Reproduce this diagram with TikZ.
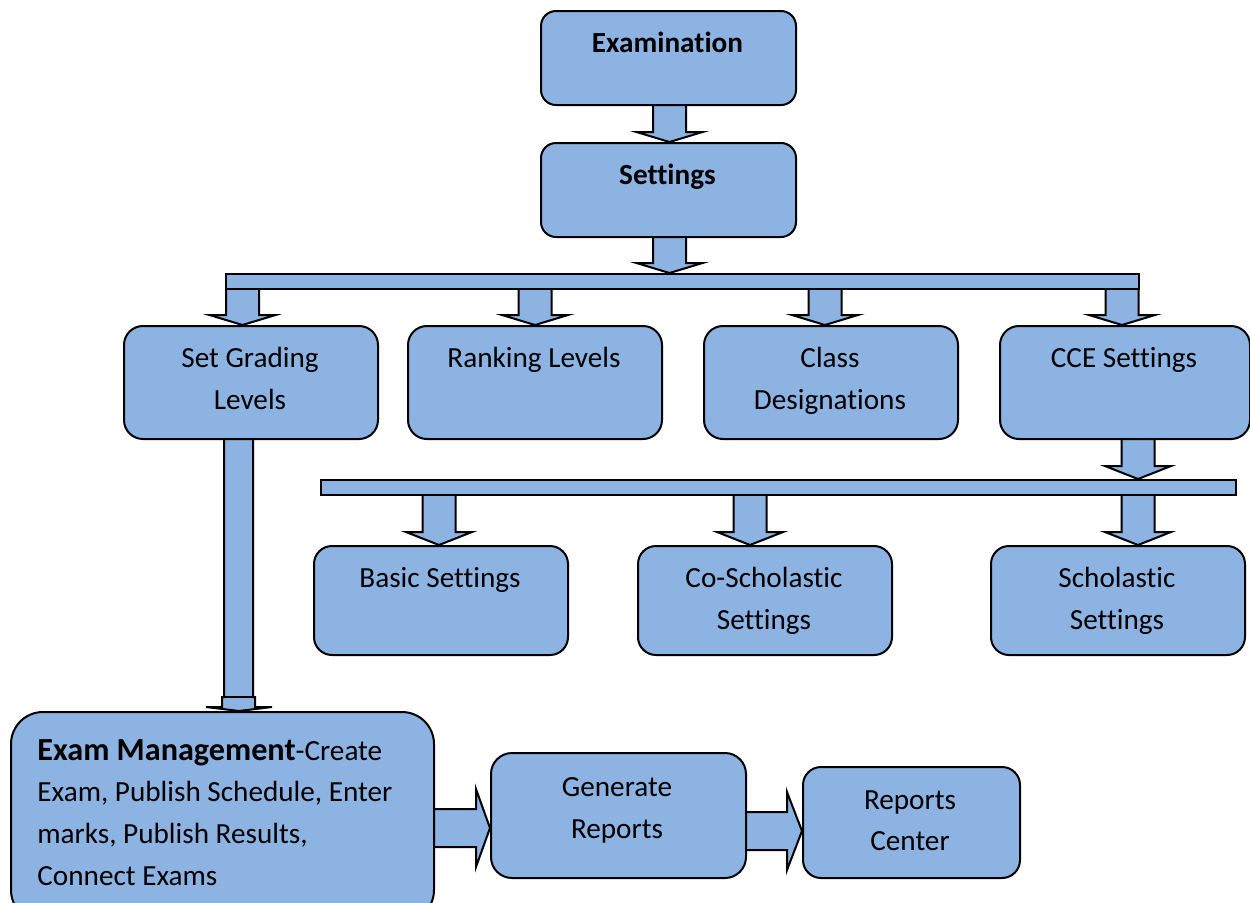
\documentclass[tikz,border=0pt]{standalone}
\usepackage{fontspec}
\setmainfont{Carlito}[Ligatures=CommonOff]
\definecolor{boxblue}{RGB}{141,179,226}
\newcommand{\blkdown}[4]{%
  \fill[boxblue] (#1-16.5,#2) -- (#1-16.5,#3) -- (#1-33,#3) -- (#1,#4) -- (#1+33,#3) -- (#1+16.5,#3) -- (#1+16.5,#2) -- cycle;
  \draw[blkline] (#1-16.5,#2) -- (#1-16.5,#3) -- (#1-33,#3) -- (#1,#4) -- (#1+33,#3) -- (#1+16.5,#3) -- (#1+16.5,#2);}
\newcommand{\blkright}[4]{%
  \fill[boxblue] (#2,#1-19) -- (#3,#1-19) -- (#3,#1-39) -- (#4,#1) -- (#3,#1+39) -- (#3,#1+19) -- (#2,#1+19) -- cycle;
  \draw[blkline] (#2,#1-19) -- (#3,#1-19) -- (#3,#1-39) -- (#4,#1) -- (#3,#1+39) -- (#3,#1+19) -- (#2,#1+19);}
\begin{document}
\begin{tikzpicture}[x=0.5pt,y=-0.5pt,
  box/.style={draw=black, fill=boxblue, line width=1pt, inner sep=0pt, anchor=north west},
  bar/.style={draw=black, fill=boxblue, line width=1pt},
  blkline/.style={draw=black, line width=1pt, line join=miter},
  txt/.style={font=\fontsize{14.6}{21}\selectfont, align=center, anchor=base, inner sep=0pt}]
\useasboundingbox (0,0) rectangle (1250,902);
% block arrows (drawn first)
\blkdown{669.5}{104}{132}{142}
\blkdown{669.5}{236}{263}{273}
\blkdown{242.5}{288}{315}{325}
\blkdown{535}{288}{315}{325}
\blkdown{825}{288}{315}{325}
\blkdown{1122}{288}{315}{325}
\blkdown{1138}{438}{466}{479}
\blkdown{439}{494}{532}{545}
\blkdown{750}{494}{532}{545}
\blkdown{1138}{494}{532}{545}
\fill[boxblue] (224,438) -- (224,697) -- (222,697) -- (222,707) -- (206,707) -- (239,711) -- (272,707) -- (255,707) -- (255,697) -- (253,697) -- (253,438) -- cycle;
\draw[blkline] (224,438) -- (224,697) -- (222,697) -- (222,707) -- (206,707) -- (239,711) -- (272,707) -- (255,707) -- (255,697) -- (253,697) -- (253,438);
\draw[blkline] (222,697) -- (255,697);
\blkright{828}{433}{476}{490}
\blkright{831}{745}{787}{802}
% bars
\node[bar, minimum width=456.5pt, minimum height=7.5pt, inner sep=0pt, anchor=north west] (bar1) at (225,273) {};
\node[bar, minimum width=457.5pt, minimum height=7.5pt, inner sep=0pt, anchor=north west] (bar2) at (320,479) {};
% boxes
\node[box, rounded corners=7.5pt, minimum width=127.5pt, minimum height=47pt] (exam) at (540,10) {};
\node[box, rounded corners=7.5pt, minimum width=127.5pt, minimum height=47pt] (settings) at (540,142) {};
\node[box, rounded corners=9.5pt, minimum width=127pt, minimum height=56.5pt] (grading) at (123,325) {};
\node[box, rounded corners=9.5pt, minimum width=127pt, minimum height=56.5pt] (ranking) at (407,325) {};
\node[box, rounded corners=9.5pt, minimum width=127pt, minimum height=56.5pt] (classd) at (703,325) {};
\node[box, rounded corners=9.5pt, minimum width=125pt, minimum height=56.5pt] (cce) at (999,325) {};
\node[box, rounded corners=9pt, minimum width=127pt, minimum height=54.5pt] (basic) at (313,545) {};
\node[box, rounded corners=9pt, minimum width=127pt, minimum height=54.5pt] (cosch) at (637,545) {};
\node[box, rounded corners=9pt, minimum width=127pt, minimum height=54.5pt] (sch) at (990,545) {};
\node[box, rounded corners=16pt, minimum width=211.5pt, minimum height=105pt] (mgmt) at (10,711) {};
\node[box, rounded corners=10.5pt, minimum width=127.5pt, minimum height=62.5pt] (gen) at (490,752) {};
\node[box, rounded corners=9pt, minimum width=108.5pt, minimum height=55.5pt] (rc) at (802,766) {};
% texts (base anchor = baseline of last line)
\node[txt, font=\fontsize{14.6}{21}\selectfont\bfseries] (t-exam) at (667.5,52) {Examination};
\node[txt, font=\fontsize{14.6}{21}\selectfont\bfseries] (t-settings) at (667.5,184) {Settings};
\node[txt] (t-grading) at (250,409) {Set Grading\\Levels};
\node[txt] (t-ranking) at (534,367) {Ranking Levels};
\node[txt] (t-classd) at (830,409) {Class\\Designations};
\node[txt] (t-cce) at (1124,367) {CCE Settings};
\node[txt] (t-basic) at (440,587) {Basic Settings};
\node[txt] (t-cosch) at (764,629) {Co-Scholastic\\Settings};
\node[txt] (t-sch) at (1117,629) {Scholastic\\Settings};
\node[txt] (t-gen) at (617,838) {Generate\\Reports};
\node[txt, font=\fontsize{14.6}{20.5}\selectfont] (t-rc) at (910,850) {Reports\\Center};
\node[txt, align=left, anchor=base west, font=\fontsize{14.6}{20.8}\selectfont] (t-mgmt) at (37,885) {{\fontsize{16.1}{20.8}\selectfont\bfseries Exam Management}-Create\\Exam, Publish Schedule, Enter\\marks, Publish Results,\\Connect Exams};
\end{tikzpicture}
\end{document}
